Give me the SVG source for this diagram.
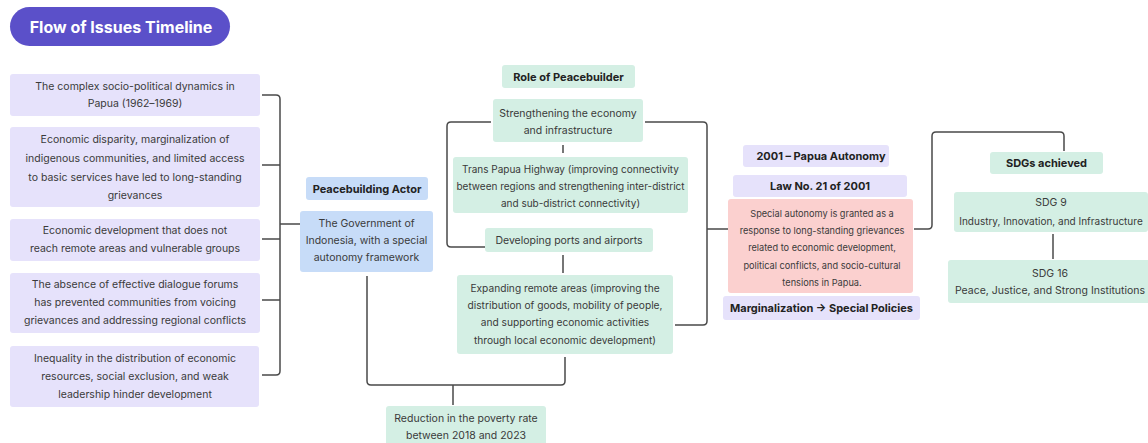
<svg xmlns="http://www.w3.org/2000/svg" width="1148" height="443" viewBox="0 0 1148 443">
<style>
text{font-family:Inter,"Liberation Sans",sans-serif;font-size:10.5px;fill:#3a3a3a;text-anchor:middle;dominant-baseline:central}
.b{font-weight:700;font-size:11px;fill:#222}
.s{font-size:9.2px}
.m{font-size:10px}
.lav{fill:#e6e2fb}
.mint{fill:#d4efe4}
.blue{fill:#c7dcf8}
.red{fill:#fbd0cf}
.ln{fill:none;stroke:#4a4a4a;stroke-width:1.5}
</style>
<rect width="1148" height="443" fill="#ffffff"/>
<g id="title">
<rect x="10" y="7" width="220" height="39" rx="19.5" fill="#5b50c9"/>
<text x="121" y="27" style="font-size:16px;font-weight:700;fill:#ffffff">Flow of Issues Timeline</text>
</g>
<g id="connectors">
<path class="ln" d="M262,95 H276 Q280,95 280,99 V371 Q280,375 276,375 H262"/>
<path class="ln" d="M262,165 H280 M262,239 H280 M262,300 H280 M280,224 H300"/>
<path class="ln" d="M491,122 H451 Q447,122 447,126 V243 Q447,247 451,247 H485"/>
<path class="ln" d="M645,122 H703 Q707,122 707,126 V321 Q707,325 703,325 H675 M707,229 H728"/>
<path class="ln" d="M563,145 V153 M563,255 V273"/>
<path class="ln" d="M367,276 V381 Q367,385 371,385 H561 Q565,385 565,381 V357 M453,385 V405"/>
<path class="ln" d="M914,229 H928 Q932,229 932,225 V136 Q932,132 936,132 H1060 Q1064,132 1064,136 V151"/>
<path class="ln" d="M1053,234 V259"/>
</g>
<g id="issue1">
<rect class="lav" x="10" y="74" width="250" height="42" rx="3"/>
<text x="135" y="86">The complex socio-political dynamics in</text>
<text x="135" y="103">Papua (1962–1969)</text>
</g>
<g id="issue2">
<rect class="lav" x="10" y="127" width="250" height="80" rx="3"/>
<text x="135" y="139">Economic disparity, marginalization of</text>
<text x="135" y="158">indigenous communities, and limited access</text>
<text x="135" y="177">to basic services have led to long-standing</text>
<text x="135" y="195">grievances</text>
</g>
<g id="issue3">
<rect class="lav" x="10" y="219" width="250" height="42" rx="3"/>
<text x="135" y="230">Economic development that does not</text>
<text x="135" y="248">reach remote areas and vulnerable groups</text>
</g>
<g id="issue4">
<rect class="lav" x="10" y="273" width="250" height="60" rx="3"/>
<text x="135" y="284">The absence of effective dialogue forums</text>
<text x="135" y="302">has prevented communities from voicing</text>
<text x="135" y="320">grievances and addressing regional conflicts</text>
</g>
<g id="issue5">
<rect class="lav" x="10" y="346" width="249" height="61" rx="3"/>
<text x="135" y="358">Inequality in the distribution of economic</text>
<text x="135" y="376">resources, social exclusion, and weak</text>
<text x="135" y="394">leadership hinder development</text>
</g>
<g id="actor-label">
<rect class="blue" x="306" y="177" width="122" height="23" rx="3"/>
<text class="b" x="367" y="188.5">Peacebuilding Actor</text>
</g>
<g id="actor">
<rect class="blue" x="300" y="211" width="133" height="61" rx="3"/>
<text x="366.5" y="223">The Government of</text>
<text x="366.5" y="240">Indonesia, with a special</text>
<text x="366.5" y="257">autonomy framework</text>
</g>
<g id="role-label">
<rect class="mint" x="502" y="65" width="133" height="23" rx="3"/>
<text class="b" x="568.5" y="76.5">Role of Peacebuilder</text>
</g>
<g id="strengthening">
<rect class="mint" x="493" y="99" width="150" height="43" rx="3"/>
<text x="568" y="113">Strengthening the economy</text>
<text x="568" y="130">and infrastructure</text>
</g>
<g id="highway">
<rect class="mint" x="453" y="157" width="235" height="56" rx="3"/>
<text class="m" x="570.5" y="169">Trans Papua Highway (improving connectivity</text>
<text class="m" x="570.5" y="186">between regions and strengthening inter-district</text>
<text class="m" x="570.5" y="203">and sub-district connectivity)</text>
</g>
<g id="ports">
<rect class="mint" x="485" y="228" width="168" height="24" rx="3"/>
<text x="569" y="240">Developing ports and airports</text>
</g>
<g id="remote">
<rect class="mint" x="457" y="275" width="216" height="79" rx="3"/>
<text x="565" y="288" style="font-size:10.2px">Expanding remote areas (improving the</text>
<text x="565" y="305" style="font-size:10.2px">distribution of goods, mobility of people,</text>
<text x="565" y="322" style="font-size:10.2px">and supporting economic activities</text>
<text x="565" y="340" style="font-size:10.2px">through local economic development)</text>
</g>
<g id="poverty">
<rect class="mint" x="386" y="406" width="160" height="40" rx="3"/>
<text x="466" y="418">Reduction in the poverty rate</text>
<text x="466" y="435">between 2018 and 2023</text>
</g>
<g id="autonomy-label">
<rect class="lav" x="743" y="145" width="146" height="22" rx="3"/>
<text class="b" x="821" y="156">2001 – Papua Autonomy</text>
</g>
<g id="law">
<rect class="lav" x="733" y="175" width="174" height="22" rx="3"/>
<text class="b" x="820" y="186">Law No. 21 of 2001</text>
</g>
<g id="autonomy">
<rect class="red" x="728" y="199" width="185" height="94" rx="3"/>
<text class="s" x="822" y="213">Special autonomy is granted as a</text>
<text class="s" x="822" y="230">response to long-standing grievances</text>
<text class="s" x="822" y="247">related to economic development,</text>
<text class="s" x="822" y="265">political conflicts, and socio-cultural</text>
<text class="s" x="822" y="282">tensions in Papua.</text>
</g>
<g id="policies">
<rect class="lav" x="723" y="296" width="197" height="24" rx="3"/>
<text class="b" x="821.5" y="308">Marginalization → Special Policies</text>
</g>
<g id="sdgs-label">
<rect class="mint" x="990" y="152" width="113" height="22" rx="3"/>
<text class="b" x="1046.5" y="163">SDGs achieved</text>
</g>
<g id="sdg9">
<rect class="mint" x="954" y="192" width="194" height="40" rx="3"/>
<text x="1051" y="202.5">SDG 9</text>
<text x="1051" y="221" style="font-size:10px">Industry, Innovation, and Infrastructure</text>
</g>
<g id="sdg16">
<rect class="mint" x="948" y="260" width="202" height="43" rx="3"/>
<text x="1050" y="273">SDG 16</text>
<text x="1050" y="290">Peace, Justice, and Strong Institutions</text>
</g>
</svg>
